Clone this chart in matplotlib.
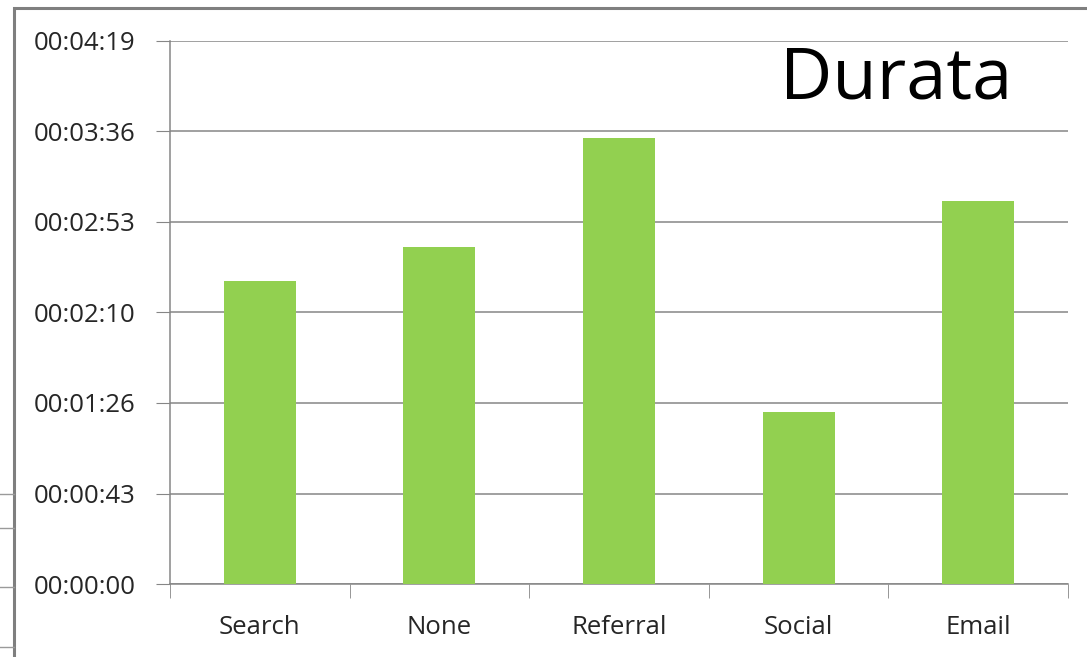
import matplotlib.pyplot as plt
from matplotlib.ticker import FuncFormatter, MultipleLocator
from matplotlib.patches import Rectangle

# average session duration by source, in seconds
sources = ["Search", "None", "Referral", "Social", "Email"]
durations = [144.6, 160.9, 212.9, 82.1, 182.8]

step = 43.2  # Excel's 0.0005 day gridline spacing
ymax = 259.2

plt.rcParams['font.family'] = ['Open Sans', 'DejaVu Sans']

fig = plt.figure(figsize=(10.87, 6.57), dpi=100)
ax = fig.add_axes([170 / 1087, 1 - 584 / 657, (1068 - 170) / 1087, (584 - 41) / 657])

ax.bar(range(len(sources)), durations, width=0.4, color="#92D050", zorder=3)


def hms(v, pos):
    s = int(round(v))
    return "%02d:%02d:%02d" % (s // 3600, (s % 3600) // 60, s % 60)


ax.set_ylim(0, ymax)
ax.set_xlim(-0.5, len(sources) - 0.5)
ax.yaxis.set_major_locator(MultipleLocator(step))
ax.yaxis.set_major_formatter(FuncFormatter(hms))
ax.grid(axis="y", color="#868686", linewidth=1.1, zorder=0)
ax.set_xticks(range(len(sources)))
ax.set_xticklabels(sources)
ax.set_xticks([i - 0.5 for i in range(len(sources) + 1)], minor=True)

for side in ["top", "right"]:
    ax.spines[side].set_visible(False)
ax.spines["left"].set_color("#868686")
ax.spines["bottom"].set_color("#868686")
ax.spines["left"].set_linewidth(1.1)
ax.spines["bottom"].set_linewidth(1.1)

ax.tick_params(axis="y", length=10, color="#868686", labelsize=18.5, labelcolor="#262626", pad=15)
ax.tick_params(axis="x", which="major", length=0, labelsize=18.5, labelcolor="#262626", pad=22)
ax.tick_params(axis="x", which="minor", length=10, color="#868686")

ax.text(0.9376, 0.928, "Durata", transform=ax.transAxes, ha="right", va="center",
        fontsize=52, color="black")

# outer chart border and left-edge artifacts from the screenshot
fig.patches.append(Rectangle((14 / 1087, -0.1), 1.2, 1 - 8 / 657 + 0.1,
                             transform=fig.transFigure, fill=False,
                             edgecolor="#7f7f7f", linewidth=2.2))
for yy in [494, 528, 587, 647]:
    fig.add_artist(plt.Line2D([0, 14 / 1087], [1 - yy / 657] * 2,
                              transform=fig.transFigure, color="#9a9a9a", linewidth=1))

fig.savefig("out.png", dpi=100)
